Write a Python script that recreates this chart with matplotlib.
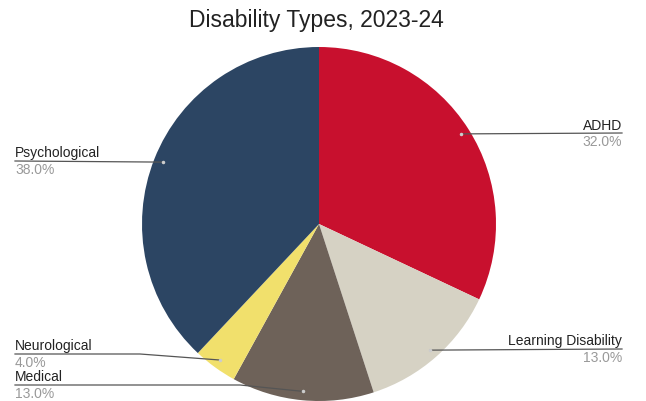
import numpy as np
import matplotlib.pyplot as plt

labels = ["ADHD", "Learning Disability", "Medical", "Neurological", "Psychological"]
values = [32.0, 13.0, 13.0, 4.0, 38.0]
colors = ["#C8102E", "#D6D2C4", "#6E6259", "#F1E06C", "#2C4563"]

W, H = 646, 402
cx, cy, r = 319, 225, 177

plt.rcParams['font.family'] = ['Liberation Sans', 'DejaVu Sans']

fig = plt.figure(figsize=(W / 100, H / 100), dpi=100)
ax = fig.add_axes([0, 0, 1, 1])

ax.pie(values, colors=colors, startangle=90, counterclock=False,
       center=(cx, H - cy), radius=r, frame=True)
ax.set_xlim(0, W)
ax.set_ylim(0, H)
ax.set_aspect('equal')
ax.axis('off')

fig.text(316 / W, 1 - 21 / H, "Disability Types, 2023-24", ha='center', va='center',
         fontsize=16.5, color='#222222')

# label placement: pixel y of leader line, where the line bends
label_y = {"ADHD": 134, "Learning Disability": 350, "Medical": 386,
           "Neurological": 355, "Psychological": 162}
bend_x = {"Medical": 240, "Neurological": 140}
right_side = {"ADHD", "Learning Disability"}

cum = np.cumsum([0] + values[:-1])
total = sum(values)
for lab, v, c0 in zip(labels, values, cum):
    mid = (c0 + v / 2) / total * 2 * np.pi
    px = cx + 0.95 * r * np.sin(mid)
    py = H - (cy - 0.95 * r * np.cos(mid))
    ly = H - label_y[lab]
    if lab in right_side:
        xe = 622
        ax.plot([px, xe], [py, ly], color='#555555', lw=0.9)
        ha = 'right'
    else:
        xe = 15
        if lab in bend_x:
            ax.plot([xe, bend_x[lab], px], [ly, ly, py], color='#555555', lw=0.9)
        else:
            ax.plot([xe, px], [ly, py], color='#555555', lw=0.9)
        ha = 'left'
    ax.plot([px], [py], 'o', ms=1.5, color='#cccccc')
    ax.text(xe, ly + 1.5, lab, ha=ha, va='bottom', fontsize=10, color='#222222')
    ax.text(xe, ly - 1.5, f"{v:.1f}%", ha=ha, va='top', fontsize=10, color='#999999')

fig.savefig("out.png", dpi=100)
